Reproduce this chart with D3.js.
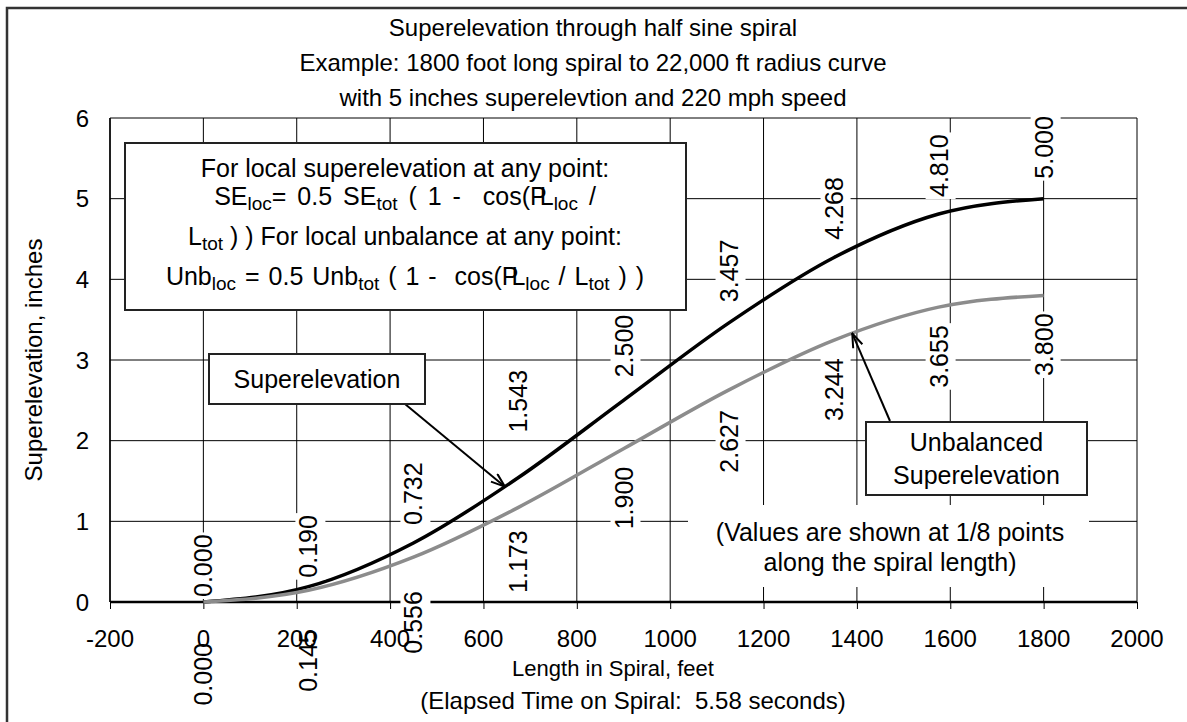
<!DOCTYPE html>
<meta charset="utf-8">
<script src="https://d3js.org/d3.v7.min.js"></script>
<style>
  body { margin: 0; background: #fff; overflow: hidden; }
  svg { display: block; }
  svg text { font-family: Arial, "Liberation Sans", sans-serif; white-space: pre; }
</style>
<body>
<div id="chart"></div>
<script>

// values at the 1/8 points along the spiral
var spiralFeet = [0, 225, 450, 675, 900, 1125, 1350, 1575, 1800];
var superElev  = [0.000, 0.190, 0.732, 1.543, 2.500, 3.457, 4.268, 4.810, 5.000];
var unbalanced = [0.000, 0.145, 0.556, 1.173, 1.900, 2.627, 3.244, 3.655, 3.800];

var xTicks = [-200, 0, 200, 400, 600, 800, 1000, 1200, 1400, 1600, 1800, 2000];
var yTicks = [0, 1, 2, 3, 4, 5, 6];

var titleLines = [
  "Superelevation through half sine spiral",
  "Example: 1800 foot long spiral to 22,000 ft radius curve",
  "with 5 inches superelevtion and 220 mph speed"
];

// label distance from its point (px), as placed in the original
var seGap  = [5, 9, 18, 45, 23, 21, 18, 17, 20];
var unbGap = [41, 39, 34, 23, 18, 20, 18, 18, 18];

var width = 1187, height = 722;

var svg = d3.select("#chart").append("svg")
    .attr("width", width)
    .attr("height", height);

var x = d3.scaleLinear().domain([-200, 2000]).range([110, 1137]);
var y = d3.scaleLinear().domain([0, 6]).range([602, 118]);

// outer chart frame
svg.append("rect")
    .attr("x", 7).attr("y", 8)
    .attr("width", 1220).attr("height", 740)
    .attr("fill", "none")
    .attr("stroke", "#333")
    .attr("stroke-width", 2.5);

// title
svg.append("g").selectAll("text")
  .data(titleLines)
  .enter().append("text")
    .attr("x", 593)
    .attr("y", function(d, i) { return 36 + i * 35; })
    .attr("text-anchor", "middle")
    .style("font-size", "24px")
    .text(function(d) { return d; });

// grid
svg.append("g").selectAll("line")
  .data(xTicks)
  .enter().append("line")
    .attr("x1", function(d) { return x(d); })
    .attr("x2", function(d) { return x(d); })
    .attr("y1", y(0)).attr("y2", y(6))
    .attr("stroke", "#000").attr("stroke-width", 1);

svg.append("g").selectAll("line")
  .data(yTicks)
  .enter().append("line")
    .attr("x1", x(-200)).attr("x2", x(2000))
    .attr("y1", function(d) { return y(d); })
    .attr("y2", function(d) { return y(d); })
    .attr("stroke", "#000").attr("stroke-width", 1);

// axis tick marks
var xAxis = svg.append("g")
    .attr("transform", "translate(0," + y(0) + ")")
    .call(d3.axisBottom(x).tickValues(xTicks).tickSize(7).tickFormat(""));
xAxis.select(".domain").remove();
xAxis.selectAll("line").attr("stroke", "#000");

svg.append("line")
    .attr("x1", x(-200)).attr("x2", x(2000))
    .attr("y1", y(0)).attr("y2", y(0))
    .attr("stroke", "#000").attr("stroke-width", 2.5);
svg.append("line")
    .attr("x1", x(-200)).attr("x2", x(-200))
    .attr("y1", y(0)).attr("y2", y(6))
    .attr("stroke", "#000").attr("stroke-width", 1.5);

// formula box
var fb = svg.append("g");
fb.append("rect")
    .attr("x", 125).attr("y", 143)
    .attr("width", 561).attr("height", 167)
    .attr("fill", "#fff")
    .attr("stroke", "#222").attr("stroke-width", 2);

function richLine(g, cx, yy, gap, parts) {
  var t = g.append("text")
      .attr("x", cx).attr("y", yy)
      .attr("text-anchor", "middle")
      .style("font-size", "25px")
      .style("word-spacing", gap + "px");
  parts.forEach(function(p) {
    var s = t.append("tspan").text(p.t);
    if (p.sub) s.style("font-size", "19px").attr("dy", 5);
    if (p.up) s.attr("dy", -5);
    if (p.dx) s.attr("dx", p.dx);
  });
  return t;
}
richLine(fb, 405, 177, 0, [{t: "For local superelevation at any point:"}]);
richLine(fb, 405, 205, 4, [
  {t: "SE"}, {t: "loc", sub: true}, {t: "= 0.5 SE", up: true}, {t: "tot", sub: true},
  {t: " ( 1 -  cos(P", up: true}, {t: "L", dx: -7}, {t: "loc", sub: true}, {t: " /", up: true}
]);
richLine(fb, 405, 245, 0, [
  {t: "L"}, {t: "tot", sub: true}, {t: " ) ) For local unbalance at any point:", up: true}
]);
richLine(fb, 405, 285, 2, [
  {t: "Unb"}, {t: "loc", sub: true}, {t: " = 0.5 Unb", up: true}, {t: "tot", sub: true},
  {t: " ( 1 -  cos(P", up: true}, {t: "L", dx: -7}, {t: "loc", sub: true},
  {t: " / L", up: true}, {t: "tot", sub: true}, {t: " ) )", up: true}
]);

// note about the labels
svg.append("rect")
    .attr("x", 688).attr("y", 505)
    .attr("width", 401).attr("height", 82)
    .attr("fill", "#fff");
svg.append("text")
    .attr("x", 890).attr("y", 541)
    .attr("text-anchor", "middle")
    .style("font-size", "25px")
    .text("(Values are shown at 1/8 points");
svg.append("text")
    .attr("x", 890).attr("y", 571)
    .attr("text-anchor", "middle")
    .style("font-size", "25px")
    .text("along the spiral length)");

// curves
var seData = spiralFeet.map(function(d, i) { return {x: d, v: superElev[i]}; });
var unData = spiralFeet.map(function(d, i) { return {x: d, v: unbalanced[i]}; });

var line = d3.line()
    .x(function(d) { return x(d.x); })
    .y(function(d) { return y(d.v); })
    .curve(d3.curveMonotoneX);

svg.append("path").datum(seData)
    .attr("d", line)
    .attr("fill", "none")
    .attr("stroke", "#000")
    .attr("stroke-width", 3.5);

svg.append("path").datum(unData)
    .attr("d", line)
    .attr("fill", "none")
    .attr("stroke", "#8c8c8c")
    .attr("stroke-width", 3.5);

// arrows
var defs = svg.append("defs");
defs.append("marker")
    .attr("id", "arr")
    .attr("viewBox", "0 0 16 12")
    .attr("refX", 15).attr("refY", 6)
    .attr("markerWidth", 16).attr("markerHeight", 12)
    .attr("markerUnits", "userSpaceOnUse")
    .attr("orient", "auto")
  .append("path")
    .attr("d", "M1,1 L15,6 L1,11")
    .attr("fill", "none")
    .attr("stroke", "#000")
    .attr("stroke-width", 2);

svg.append("line")
    .attr("x1", 405).attr("y1", 404)
    .attr("x2", x(646)).attr("y2", y(1.43))
    .attr("stroke", "#000").attr("stroke-width", 2)
    .attr("marker-end", "url(#arr)");

svg.append("line")
    .attr("x1", 890).attr("y1", 421)
    .attr("x2", x(1390)).attr("y2", y(3.33))
    .attr("stroke", "#000").attr("stroke-width", 2)
    .attr("marker-end", "url(#arr)");

// callout boxes
function callout(x0, y0, w, h, lines) {
  var g = svg.append("g");
  g.append("rect")
      .attr("x", x0).attr("y", y0)
      .attr("width", w).attr("height", h)
      .attr("fill", "#fff")
      .attr("stroke", "#222").attr("stroke-width", 2);
  lines.forEach(function(t, i) {
    g.append("text")
        .attr("x", x0 + w / 2)
        .attr("y", y0 + h / 2 + 9 - (lines.length - 1) * 16.5 + i * 33)
        .attr("text-anchor", "middle")
        .style("font-size", "25px")
        .text(t);
  });
}
callout(209, 354, 216, 50, ["Superelevation"]);
callout(866, 422, 221, 73, ["Unbalanced", "Superelevation"]);

// data labels (rotated, white backing)
function labels(data, gaps, above) {
  data.forEach(function(d, i) {
    var txt = d.v.toFixed(3);
    var py = y(d.v) + (above ? -gaps[i] : gaps[i]);
    var g = svg.append("g")
        .attr("transform", "translate(" + (x(d.x) + 9) + "," + py + ") rotate(-90)");
    var t = g.append("text")
        .attr("text-anchor", above ? "start" : "end")
        .style("font-size", "25px")
        .text(txt);
    var bb = t.node().getBBox();
    g.insert("rect", "text")
        .attr("x", bb.x - 2).attr("y", -22)
        .attr("width", bb.width + 4).attr("height", 30)
        .attr("fill", "#fff");
  });
}
labels(seData, seGap, true);
labels(unData, unbGap, false);

// tick labels on top
svg.append("g").selectAll("text")
  .data(xTicks)
  .enter().append("text")
    .attr("x", function(d) { return x(d); })
    .attr("y", 647)
    .attr("text-anchor", "middle")
    .style("font-size", "24px")
    .text(function(d) { return d; });

svg.append("g").selectAll("text")
  .data(yTicks)
  .enter().append("text")
    .attr("x", 89)
    .attr("y", function(d) { return y(d) + 8.5; })
    .attr("text-anchor", "end")
    .style("font-size", "24px")
    .text(function(d) { return d; });

// axis titles
svg.append("text")
    .attr("x", 613).attr("y", 676)
    .attr("text-anchor", "middle")
    .style("font-size", "22px")
    .text("Length in Spiral, feet");
svg.append("text")
    .attr("x", 633).attr("y", 709)
    .attr("text-anchor", "middle")
    .style("font-size", "24px")
    .text("(Elapsed Time on Spiral:  5.58 seconds)");
svg.append("text")
    .attr("transform", "translate(42," + y(3) + ") rotate(-90)")
    .attr("text-anchor", "middle")
    .style("font-size", "24px")
    .text("Superelevation, inches");

</script>
</body>
